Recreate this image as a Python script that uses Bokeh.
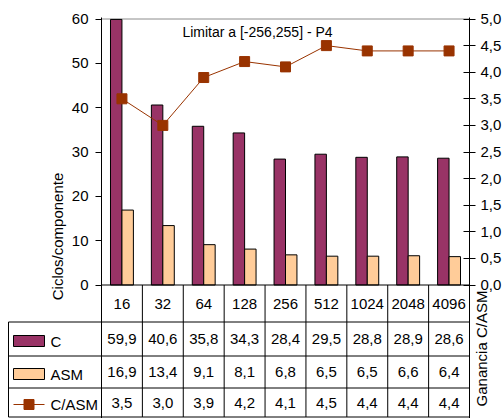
import numpy as np
from bokeh.plotting import figure
from bokeh.models import Range1d, LinearAxis, FixedTicker, CustomJSTickFormatter
from bokeh.core.properties import value
from bokeh.embed import file_html
from bokeh.resources import INLINE

# ---------------- data ----------------
categories = ["16", "32", "64", "128", "256", "512", "1024", "2048", "4096"]
c_values = [59.9, 40.6, 35.8, 34.3, 28.4, 29.5, 28.8, 28.9, 28.6]
asm_values = [16.9, 13.4, 9.1, 8.1, 6.8, 6.5, 6.5, 6.6, 6.4]
gain_values = [3.5, 3.0, 3.9, 4.2, 4.1, 4.5, 4.4, 4.4, 4.4]
left_ticks = [0, 10, 20, 30, 40, 50, 60]
right_ticks = [0.0, 0.5, 1.0, 1.5, 2.0, 2.5, 3.0, 3.5, 4.0, 4.5, 5.0]
series_names = ["C", "ASM", "C/ASM"]
title_text = "Limitar a [-256,255] - P4"
left_label = "Ciclos/componente"
right_label = "Ganancia C/ASM"

# ---------------- styles ----------------
C_COLOR = "#993366"
ASM_COLOR = "#FFCC99"
GAIN_COLOR = "#993300"
FONT = value("Liberation Sans")
FS = "15px"

# ---------------- layout (pixels) ----------------
W, H = 504, 418
FL, FR, FT, FB = 101, 469, 17, 418
Y0 = 284.5          # pixel row of value 0
YMAX_PX = 18.5      # pixel row of the axes' maxima
n = len(categories)
col_w = (FR - FL) / n
ppu_l = (Y0 - YMAX_PX) / max(left_ticks)
ppu_r = (Y0 - YMAX_PX) / max(right_ticks)


def px_x(px):
    return (px - FL) / col_w


def px_y(py):
    return (Y0 - py) / ppu_l


row_lines_px = [321.5, 355.5, 387.5, 416.5]
header_center = (Y0 + row_lines_px[0]) / 2
row_centers = [(row_lines_px[i] + row_lines_px[i + 1]) / 2 for i in range(3)]

p = figure(width=W, height=H, output_backend="svg", toolbar_location=None,
           x_range=Range1d(0, n), y_range=Range1d(px_y(FB), px_y(FT)),
           x_axis_location=None, min_border_left=FL, min_border_right=W - FR,
           min_border_top=FT, min_border_bottom=H - FB)
p.outline_line_color = None
p.xgrid.visible = False
p.ygrid.visible = False
p.background_fill_color = "white"
p.border_fill_color = "white"

p.extra_y_ranges = {"gain": Range1d((Y0 - FB) / ppu_r, (Y0 - FT) / ppu_r)}

# left axis
ax = p.yaxis[0]
ax.ticker = FixedTicker(ticks=left_ticks, minor_ticks=[])
ax.major_tick_out = 6
ax.major_tick_in = 0
ax.major_label_standoff = 7
ax.axis_line_color = "black"
ax.major_tick_line_color = "black"
ax.major_label_text_font = "Liberation Sans"
ax.major_label_text_font_size = FS
ax.major_label_text_color = "black"

# right axis
rax = LinearAxis(y_range_name="gain",
                 ticker=FixedTicker(ticks=right_ticks, minor_ticks=[]),
                 formatter=CustomJSTickFormatter(code="return tick.toFixed(1).replace('.', ',')"))
rax.major_tick_out = 6
rax.major_tick_in = 6
rax.major_label_standoff = 5
rax.axis_line_color = "black"
rax.major_tick_line_color = "black"
rax.major_label_text_font = "Liberation Sans"
rax.major_label_text_font_size = FS
rax.major_label_text_color = "black"
p.add_layout(rax, "right")

xs = np.arange(n) + 0.5

# top border of plot area
p.segment(x0=[0], x1=[n], y0=[max(left_ticks)], y1=[max(left_ticks)],
          line_color="#8c8c8c", line_width=1)

# bars
bw = 0.28
p.vbar(x=xs - bw / 2, width=bw, top=c_values, bottom=0,
       fill_color=C_COLOR, line_color="black", line_width=1)
p.vbar(x=xs + bw / 2, width=bw, top=asm_values, bottom=0,
       fill_color=ASM_COLOR, line_color="black", line_width=1)

# table grid
left_edge = px_x(8)
hy = [px_y(v) for v in row_lines_px]
p.segment(x0=[0], x1=[n], y0=[0], y1=[0], line_color="black", level="overlay")
p.segment(x0=[left_edge] * len(hy), x1=[n] * len(hy), y0=hy, y1=hy,
          line_color="black", level="overlay")
p.segment(x0=list(range(1, n)), x1=list(range(1, n)), y0=[0] * (n - 1),
          y1=[hy[-1]] * (n - 1), line_color="black", level="overlay")
p.segment(x0=[left_edge], x1=[left_edge], y0=[hy[0]], y1=[hy[-1]],
          line_color="black", level="overlay")

# line series
p.line(x=xs, y=gain_values, y_range_name="gain", line_color=GAIN_COLOR, line_width=1)
p.scatter(x=xs, y=gain_values, y_range_name="gain", marker="square", size=10,
          fill_color=GAIN_COLOR, line_color=GAIN_COLOR)

# table texts
def fmt(v):
    return f"{v:.1f}".replace(".", ",")

p.text(x=xs, y=[px_y(header_center)] * n, text=categories, text_font=FONT,
       text_font_size=FS, text_align="center", text_baseline="middle", level="overlay")
for vals, rc in zip([c_values, asm_values, gain_values], row_centers):
    p.text(x=xs, y=[px_y(rc)] * n, text=[fmt(v) for v in vals], text_font=FONT,
           text_font_size=FS, text_align="center", text_baseline="middle", level="overlay")

# legend column
leg_y = [px_y(rc + 2) for rc in row_centers]
sw_x = px_x(28.5)
p.rect(x=[sw_x], y=[leg_y[0]], width=31 / col_w, height=11 / ppu_l,
       fill_color=C_COLOR, line_color="black", level="overlay")
p.rect(x=[sw_x], y=[leg_y[1]], width=31 / col_w, height=11 / ppu_l,
       fill_color=ASM_COLOR, line_color="black", level="overlay")
p.segment(x0=[px_x(13)], x1=[px_x(44)], y0=[leg_y[2]], y1=[leg_y[2]],
          line_color=GAIN_COLOR, level="overlay")
p.rect(x=[sw_x], y=[leg_y[2]], width=10 / col_w, height=10 / ppu_l,
       fill_color=GAIN_COLOR, line_color=GAIN_COLOR, level="overlay")
p.text(x=[px_x(50)] * 3, y=leg_y, text=series_names, text_font=FONT, text_font_size=FS,
       text_align="left", text_baseline="middle", level="overlay")

# axis titles and chart title
p.text(x=[px_x(56.5)], y=[px_y(236)], text=[left_label], angle=np.pi / 2,
       text_font=FONT, text_font_size=FS, text_align="center", text_baseline="middle",
       level="overlay")
p.text(x=[px_x(481)], y=[px_y(348)], text=[right_label], angle=np.pi / 2,
       text_font=FONT, text_font_size=FS, text_align="center", text_baseline="middle",
       level="overlay")
p.text(x=[px_x(257)], y=[px_y(31.5)], text=[title_text], text_font=FONT,
       text_font_size="14px", text_align="center", text_baseline="middle", level="overlay")

open("out.html", "w").write(file_html(p, INLINE))
